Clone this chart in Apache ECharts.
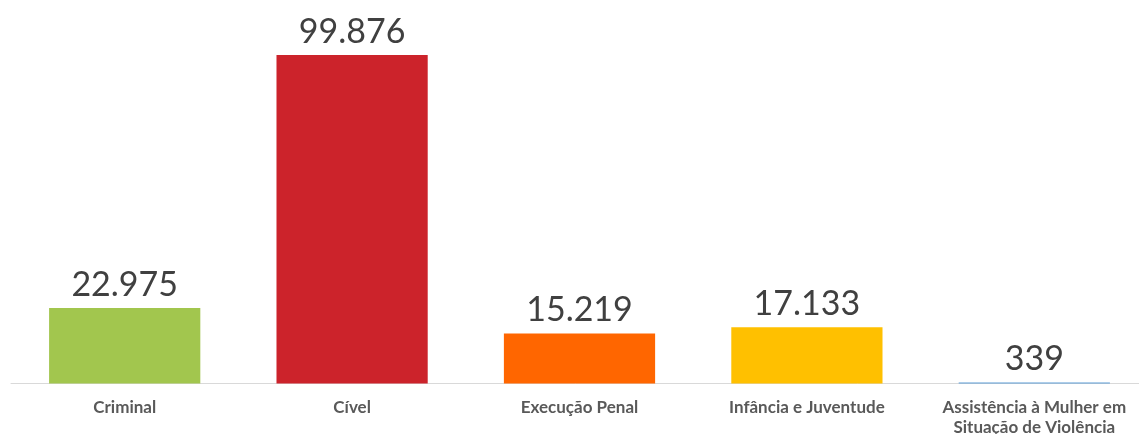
<!DOCTYPE html>
<html><head><meta charset="utf-8">
<script src="https://cdn.jsdelivr.net/npm/echarts@6/dist/echarts.min.js"></script>
<style>html,body{margin:0;padding:0;background:#fff;overflow:hidden}#c{width:1139px;height:434px}</style>
</head><body><div id="c"></div>
<script>
const categories = ['Criminal', 'Cível', 'Execução Penal', 'Infância e Juventude', 'Assistência à Mulher em\nSituação de Violência'];
const values = [22975, 99876, 15219, 17133, 339];
const colors = ['#a2c64e', '#cc232b', '#ff6600', '#ffc000', '#5b9bd5'];

const chart = echarts.init(document.getElementById('c'));
chart.setOption({
  animation: false,
  grid: { left: 11, width: 1137, top: 54.6, bottom: 50.5, containLabel: false, outerBoundsMode: 'none' },
  xAxis: {
    type: 'category', data: categories,
    axisLine: { lineStyle: { color: '#d9d9d9', width: 1 } },
    axisTick: { show: false },
    axisLabel: { interval: 0, color: '#595959', fontFamily: 'Lato', fontWeight: 'bold', fontSize: 17, lineHeight: 20, margin: 14 }
  },
  yAxis: { type: 'value', min: 0, max: 100000, show: false, splitLine: { show: false } },
  series: [{
    type: 'bar', barWidth: '66.5%',
    data: values.map((v, i) => ({ value: v, itemStyle: { color: colors[i] } })),
    label: {
      show: true, position: 'top', distance: 6, color: '#404040', fontFamily: 'Lato', fontSize: 34,
      formatter: p => p.value.toLocaleString('pt-BR')
    }
  }]
});
</script></body></html>
